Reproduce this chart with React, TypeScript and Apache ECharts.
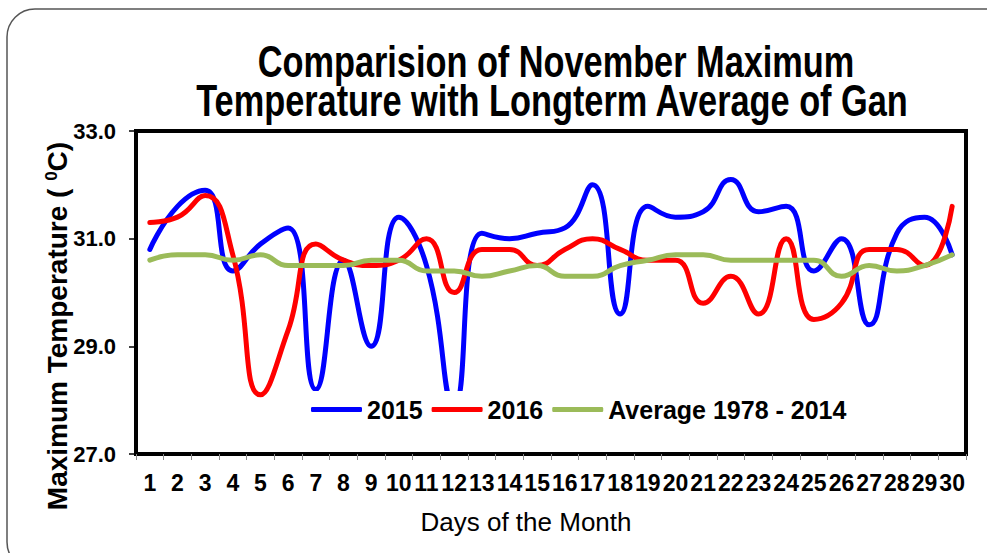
import React, { useEffect, useRef } from "react";
import * as echarts from "echarts";

const days = [
  "1", "2", "3", "4", "5", "6", "7", "8", "9", "10",
  "11", "12", "13", "14", "15", "16", "17", "18", "19", "20",
  "21", "22", "23", "24", "25", "26", "27", "28", "29", "30",
];

const series2015 = [
  30.8, 31.6, 31.9, 30.4, 30.9, 31.2, 28.2, 30.6, 29.0, 31.4,
  30.5, 27.9, 31.1, 31.0, 31.1, 31.2, 32.0, 29.6, 31.6, 31.4,
  31.5, 32.1, 31.5, 31.6, 30.4, 31.0, 29.4, 31.1, 31.4, 30.7,
];

const series2016 = [
  31.3, 31.4, 31.8, 30.7, 28.1, 29.3, 30.9, 30.6, 30.5, 30.6,
  31.0, 30.0, 30.8, 30.8, 30.5, 30.8, 31.0, 30.8, 30.6, 30.6,
  29.8, 30.3, 29.6, 31.0, 29.5, 29.8, 30.8, 30.8, 30.5, 31.6,
];

const seriesAverage = [
  30.6, 30.7, 30.7, 30.6, 30.7, 30.5, 30.5, 30.5, 30.6, 30.6,
  30.4, 30.4, 30.3, 30.4, 30.5, 30.3, 30.3, 30.5, 30.6, 30.7,
  30.7, 30.6, 30.6, 30.6, 30.6, 30.3, 30.5, 30.4, 30.5, 30.7,
];

const seriesNames = ["2015", "2016", "Average 1978 - 2014"];
const seriesColors = ["#0000FF", "#FF0000", "#9BBB59"];

const titleLines = [
  "Comparision of November Maximum",
  "Temperature with Longterm Average of Gan",
];
const xAxisTitle = "Days of the Month";

const FONT = "'Liberation Sans', Arial, sans-serif";

export default function App() {
  const ref = useRef<HTMLDivElement>(null);

  useEffect(() => {
    if (!ref.current) return;
    const chart = echarts.init(ref.current, null, { renderer: "svg" });
    const data = [series2015, series2016, seriesAverage];

    const option = {
      animation: false,
      backgroundColor: "#ffffff",
      textStyle: { fontFamily: FONT },
      grid: {
        left: 136,
        right: 21,
        top: 131,
        bottom: 99,
        show: true,
        borderColor: "#000",
        borderWidth: 4,
        containLabel: false,
      },
      legend: {
        data: seriesNames,
        left: 306,
        top: 391,
        padding: [6, 5, 6, 5],
        backgroundColor: "#ffffff",
        icon: "roundRect",
        itemWidth: 51,
        itemHeight: 5,
        itemGap: 9,
        textStyle: {
          fontFamily: FONT,
          fontWeight: "bold",
          fontSize: 25,
          color: "#000",
        },
      },
      xAxis: {
        type: "category",
        data: days,
        boundaryGap: true,
        axisLine: { show: true, lineStyle: { color: "#000", width: 4 } },
        axisTick: {
          show: true,
          length: 6,
          interval: 0,
          lineStyle: { color: "#8c8c8c", width: 1 },
        },
        axisLabel: {
          interval: 0,
          margin: 17,
          fontFamily: FONT,
          fontWeight: "bold",
          fontSize: 23,
          color: "#000",
        },
        splitLine: { show: false },
      },
      yAxis: {
        type: "value",
        min: 27,
        max: 33,
        interval: 2,
        axisLine: { show: true, lineStyle: { color: "#000", width: 4 } },
        axisTick: { show: true, length: 7, lineStyle: { color: "#000", width: 1.5 } },
        axisLabel: {
          margin: 20,
          fontFamily: FONT,
          fontWeight: "bold",
          fontSize: 22,
          color: "#000",
          formatter: (v: number) => v.toFixed(1),
        },
        splitLine: { show: false },
      },
      series: seriesNames.map((name, i) => ({
        name,
        type: "line",
        data: data[i],
        smooth: true,
        symbol: "none",
        showSymbol: false,
        itemStyle: { color: seriesColors[i] },
        lineStyle: { color: seriesColors[i], width: 5, cap: "round", join: "round" },
      })),
      graphic: [
        {
          type: "rect",
          silent: true,
          z: 0,
          shape: { x: 7, y: 9, width: 1010, height: 561, r: 28 },
          style: { fill: "none", stroke: "#555555", lineWidth: 1.5 },
        },
        {
          type: "text",
          x: 556,
          y: 61,
          scaleX: 0.78,
          style: {
            text: titleLines[0],
            fontFamily: FONT,
            fontWeight: "bold",
            fontSize: 44,
            fill: "#000",
            textAlign: "center",
            align: "center",
            textVerticalAlign: "middle",
            verticalAlign: "middle",
          },
        },
        {
          type: "text",
          x: 552,
          y: 100,
          scaleX: 0.78,
          style: {
            text: titleLines[1],
            fontFamily: FONT,
            fontWeight: "bold",
            fontSize: 44,
            fill: "#000",
            textAlign: "center",
            align: "center",
            textVerticalAlign: "middle",
            verticalAlign: "middle",
          },
        },
        {
          type: "text",
          x: 526,
          y: 522,
          style: {
            text: xAxisTitle,
            fontFamily: FONT,
            fontSize: 26,
            fill: "#000",
            textAlign: "center",
            align: "center",
            textVerticalAlign: "middle",
            verticalAlign: "middle",
          },
        },
        {
          type: "text",
          x: 57,
          y: 326,
          rotation: Math.PI / 2,
          style: {
            text: "Maximum Temperature ( {sup|0}C)",
            fontFamily: FONT,
            fontWeight: "bold",
            fontSize: 28,
            fill: "#000",
            textAlign: "center",
            align: "center",
            textVerticalAlign: "middle",
            verticalAlign: "middle",
            rich: {
              sup: {
                fontFamily: FONT,
                fontWeight: "bold",
                fontSize: 17,
                verticalAlign: "top",
                fill: "#000",
              },
            },
          },
        },
      ],
    };

    chart.setOption(option);
    return () => chart.dispose();
  }, []);

  return (
    <div
      ref={ref}
      style={{ position: "fixed", left: 0, top: 0, width: 987, height: 553, background: "#fff" }}
    />
  );
}
